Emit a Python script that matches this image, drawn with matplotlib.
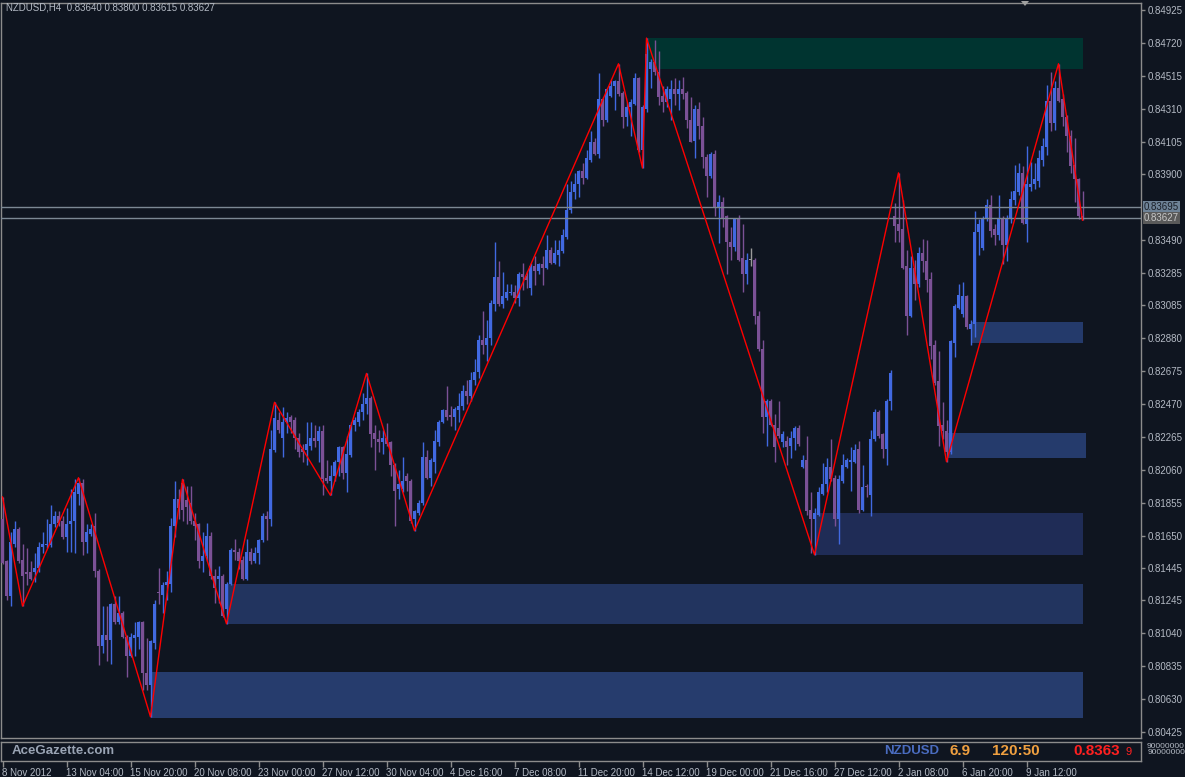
import matplotlib
matplotlib.use("Agg")
import matplotlib.pyplot as plt
from matplotlib.patches import Rectangle, Polygon

# NZDUSD H4 candles, bar 0 = first bar on screen (8 Nov 2012)
opens = [
    0.8175, 0.8149, 0.8127, 0.8160, 0.8169, 0.8150, 0.8142, 0.8142, 0.8142, 0.8145,
    0.8158, 0.8159, 0.8159, 0.8172, 0.8177, 0.8174, 0.8164, 0.8172, 0.8174, 0.8191,
    0.8198, 0.8161, 0.8166, 0.8171, 0.8143, 0.8096, 0.8103, 0.8100, 0.8122, 0.8111,
    0.8117, 0.8102, 0.8090, 0.8101, 0.8102, 0.8111, 0.8079, 0.8072, 0.8098, 0.8130,
    0.8128, 0.8134, 0.8135, 0.8171, 0.8188, 0.8198, 0.8187, 0.8185, 0.8174, 0.8172,
    0.8149, 0.8152, 0.8165, 0.8140, 0.8138, 0.8140, 0.8119, 0.8135, 0.8156, 0.8155,
    0.8150, 0.8138, 0.8155, 0.8149, 0.8154, 0.8162, 0.8177, 0.8175, 0.8218, 0.8237,
    0.8226, 0.8236, 0.8239, 0.8237, 0.8226, 0.8219, 0.8218, 0.8221, 0.8226, 0.8224,
    0.8230, 0.8201, 0.8199, 0.8202, 0.8211, 0.8220, 0.8204, 0.8215, 0.8234, 0.8236,
    0.8242, 0.8247, 0.8251, 0.8229, 0.8225, 0.8223, 0.8226, 0.8223, 0.8209, 0.8194,
    0.8194, 0.8202, 0.8199, 0.8175, 0.8179, 0.8185, 0.8214, 0.8201, 0.8211, 0.8223,
    0.8236, 0.8243, 0.8240, 0.8239, 0.8243, 0.8246, 0.8255, 0.8252, 0.8262, 0.8267,
    0.8287, 0.8284, 0.8288, 0.8309, 0.8326, 0.8309, 0.8313, 0.8316, 0.8317, 0.8313,
    0.8328, 0.8327, 0.8319, 0.8333, 0.8330, 0.8334, 0.8332, 0.8343, 0.8335, 0.8340,
    0.8342, 0.8351, 0.8368, 0.8379, 0.8384, 0.8392, 0.8388, 0.8399, 0.8410, 0.8403,
    0.8437, 0.8424, 0.8439, 0.8445, 0.8448, 0.8441, 0.8426, 0.8432, 0.8434, 0.8450,
    0.8405, 0.8431, 0.8456, 0.8460, 0.8454, 0.8439, 0.8435, 0.8437, 0.8443, 0.8440,
    0.8443, 0.8441, 0.8424, 0.8411, 0.8431, 0.8420, 0.8401, 0.8389, 0.8403, 0.8369,
    0.8373, 0.8364, 0.8348, 0.8345, 0.8362, 0.8338, 0.8328, 0.8337, 0.8337, 0.8302,
    0.8281, 0.8239, 0.8249, 0.8234, 0.8232, 0.8223, 0.8224, 0.8221, 0.8226, 0.8232,
    0.8208, 0.8212, 0.8181, 0.8175, 0.8178, 0.8191, 0.8197, 0.8208, 0.8201, 0.8175,
    0.8199, 0.8208, 0.8211, 0.8211, 0.8219, 0.8181, 0.8196, 0.8190, 0.8225, 0.8242,
    0.8228, 0.8219, 0.8249, 0.8364, 0.8359, 0.8356, 0.8333, 0.8302, 0.8332, 0.8322,
    0.8341, 0.8336, 0.8325, 0.8284, 0.8261, 0.8234, 0.8230, 0.8217, 0.8285, 0.8307,
    0.8303, 0.8314, 0.8294, 0.8297, 0.8354, 0.8344, 0.8362, 0.8371, 0.8356, 0.8352,
    0.8363, 0.8346, 0.8363, 0.8374, 0.8379, 0.8391, 0.8359, 0.8382, 0.8384, 0.8386,
    0.8399, 0.8407, 0.8436, 0.8422, 0.8444, 0.8437, 0.8426, 0.8414, 0.8396, 0.8387,
    0.83640,
]
highs = [
    0.8189, 0.8150, 0.8167, 0.8174, 0.8170, 0.8160, 0.8157, 0.8149, 0.8154, 0.8161,
    0.8167, 0.8175, 0.8184, 0.8180, 0.8180, 0.8177, 0.8182, 0.8194, 0.8200, 0.8201,
    0.8200, 0.8172, 0.8172, 0.8179, 0.8144, 0.8121, 0.8121, 0.8123, 0.8127, 0.8127,
    0.8118, 0.8103, 0.8104, 0.8111, 0.8112, 0.8112, 0.8101, 0.8100, 0.8125, 0.8145,
    0.8136, 0.8143, 0.8176, 0.8199, 0.8194, 0.8200, 0.8196, 0.8196, 0.8179, 0.8173,
    0.8167, 0.8173, 0.8167, 0.8144, 0.8146, 0.8141, 0.8136, 0.8157, 0.8163, 0.8157,
    0.8152, 0.8163, 0.8157, 0.8158, 0.8163, 0.8179, 0.8180, 0.8231, 0.8248, 0.8242,
    0.8245, 0.8242, 0.8240, 0.8239, 0.8229, 0.8222, 0.8236, 0.8236, 0.8234, 0.8233,
    0.8234, 0.8212, 0.8209, 0.8212, 0.8221, 0.8221, 0.8227, 0.8236, 0.8239, 0.8244,
    0.8254, 0.8266, 0.8252, 0.8234, 0.8231, 0.8231, 0.8235, 0.8224, 0.8210, 0.8206,
    0.8214, 0.8204, 0.8200, 0.8181, 0.8187, 0.8223, 0.8218, 0.8213, 0.8231, 0.8237,
    0.8244, 0.8258, 0.8246, 0.8245, 0.8254, 0.8259, 0.8262, 0.8267, 0.8275, 0.8290,
    0.8305, 0.8299, 0.8312, 0.8348, 0.8336, 0.8329, 0.8322, 0.8322, 0.8321, 0.8329,
    0.8335, 0.8330, 0.8335, 0.8339, 0.8335, 0.8339, 0.8352, 0.8345, 0.8349, 0.8349,
    0.8356, 0.8384, 0.8386, 0.8391, 0.8393, 0.8397, 0.8405, 0.8417, 0.8413, 0.8453,
    0.8438, 0.8444, 0.8449, 0.8449, 0.8459, 0.8442, 0.8435, 0.8437, 0.8453, 0.8451,
    0.8433, 0.8475, 0.8462, 0.8474, 0.8467, 0.8445, 0.8445, 0.8449, 0.8450, 0.8449,
    0.8451, 0.8442, 0.8438, 0.8433, 0.8435, 0.8426, 0.8403, 0.8404, 0.8405, 0.8377,
    0.8376, 0.8365, 0.8357, 0.8363, 0.8365, 0.8359, 0.8341, 0.8344, 0.8338, 0.8305,
    0.8287, 0.8250, 0.8250, 0.8241, 0.8249, 0.8230, 0.8227, 0.8230, 0.8233, 0.8234,
    0.8215, 0.8227, 0.8192, 0.8182, 0.8195, 0.8210, 0.8213, 0.8225, 0.8203, 0.8203,
    0.8216, 0.8213, 0.8220, 0.8222, 0.8224, 0.8209, 0.8197, 0.8231, 0.8244, 0.8243,
    0.8229, 0.8250, 0.8268, 0.8372, 0.8391, 0.8374, 0.8343, 0.8339, 0.8337, 0.8345,
    0.8350, 0.8349, 0.8329, 0.8287, 0.8280, 0.8248, 0.8237, 0.8287, 0.8309, 0.8322,
    0.8323, 0.8315, 0.8299, 0.8367, 0.8362, 0.8364, 0.8375, 0.8377, 0.8359, 0.8377,
    0.8364, 0.8365, 0.8380, 0.8396, 0.8397, 0.8395, 0.8408, 0.8398, 0.8397, 0.8405,
    0.8413, 0.8446, 0.8454, 0.8448, 0.8459, 0.8440, 0.8427, 0.8418, 0.8413, 0.8388,
    0.83800,
]
lows = [
    0.8147, 0.8125, 0.8121, 0.8158, 0.8148, 0.8121, 0.8134, 0.8137, 0.8136, 0.8142,
    0.8154, 0.8157, 0.8158, 0.8170, 0.8171, 0.8163, 0.8155, 0.8155, 0.8154, 0.8184,
    0.8153, 0.8154, 0.8165, 0.8139, 0.8084, 0.8092, 0.8087, 0.8085, 0.8110, 0.8110,
    0.8101, 0.8077, 0.8089, 0.8090, 0.8094, 0.8069, 0.8069, 0.8052, 0.8094, 0.8122,
    0.8117, 0.8125, 0.8130, 0.8164, 0.8175, 0.8174, 0.8172, 0.8172, 0.8162, 0.8145,
    0.8142, 0.8149, 0.8138, 0.8123, 0.8123, 0.8114, 0.8110, 0.8134, 0.8150, 0.8144,
    0.8137, 0.8137, 0.8147, 0.8148, 0.8147, 0.8161, 0.8162, 0.8171, 0.8217, 0.8229,
    0.8214, 0.8229, 0.8229, 0.8219, 0.8214, 0.8211, 0.8209, 0.8218, 0.8220, 0.8211,
    0.8190, 0.8198, 0.8190, 0.8199, 0.8202, 0.8200, 0.8192, 0.8214, 0.8230, 0.8233,
    0.8237, 0.8241, 0.8220, 0.8206, 0.8217, 0.8216, 0.8221, 0.8202, 0.8171, 0.8188,
    0.8192, 0.8193, 0.8173, 0.8168, 0.8178, 0.8184, 0.8200, 0.8196, 0.8204, 0.8221,
    0.8235, 0.8237, 0.8233, 0.8231, 0.8236, 0.8243, 0.8247, 0.8249, 0.8259, 0.8263,
    0.8278, 0.8274, 0.8284, 0.8305, 0.8308, 0.8307, 0.8312, 0.8315, 0.8310, 0.8308,
    0.8318, 0.8319, 0.8315, 0.8321, 0.8328, 0.8321, 0.8331, 0.8334, 0.8334, 0.8333,
    0.8341, 0.8350, 0.8366, 0.8375, 0.8376, 0.8384, 0.8387, 0.8398, 0.8402, 0.8400,
    0.8420, 0.8423, 0.8438, 0.8430, 0.8439, 0.8419, 0.8420, 0.8414, 0.8433, 0.8404,
    0.8394, 0.8429, 0.8444, 0.8452, 0.8433, 0.8429, 0.8432, 0.8424, 0.8433, 0.8430,
    0.8437, 0.8419, 0.8410, 0.8400, 0.8412, 0.8394, 0.8376, 0.8388, 0.8364, 0.8347,
    0.8357, 0.8328, 0.8337, 0.8342, 0.8336, 0.8317, 0.8322, 0.8333, 0.8297, 0.8280,
    0.8229, 0.8221, 0.8233, 0.8211, 0.8226, 0.8220, 0.8209, 0.8213, 0.8218, 0.8221,
    0.8207, 0.8178, 0.8154, 0.8153, 0.8177, 0.8190, 0.8192, 0.8199, 0.8171, 0.8160,
    0.8198, 0.8207, 0.8193, 0.8210, 0.8179, 0.8180, 0.8189, 0.8177, 0.8224, 0.8226,
    0.8213, 0.8209, 0.8243, 0.8348, 0.8348, 0.8331, 0.8290, 0.8301, 0.8312, 0.8320,
    0.8329, 0.8317, 0.8275, 0.8259, 0.8221, 0.8225, 0.8211, 0.8216, 0.8276, 0.8306,
    0.8301, 0.8294, 0.8284, 0.8289, 0.8340, 0.8343, 0.8361, 0.8351, 0.8346, 0.8349,
    0.8334, 0.8336, 0.8360, 0.8371, 0.8377, 0.8359, 0.8348, 0.8380, 0.8381, 0.8382,
    0.8395, 0.8402, 0.8417, 0.8418, 0.8435, 0.8420, 0.8404, 0.8391, 0.8373, 0.8362,
    0.83615,
]
closes = [
    0.8148, 0.8127, 0.8161, 0.8169, 0.8149, 0.8140, 0.8141, 0.8138, 0.8145, 0.8158,
    0.8160, 0.8160, 0.8172, 0.8177, 0.8173, 0.8164, 0.8172, 0.8174, 0.8192, 0.8198,
    0.8161, 0.8167, 0.8169, 0.8143, 0.8096, 0.8103, 0.8100, 0.8122, 0.8111, 0.8117,
    0.8102, 0.8090, 0.8102, 0.8103, 0.8111, 0.8079, 0.8072, 0.8099, 0.8122, 0.8129,
    0.8134, 0.8136, 0.8171, 0.8188, 0.8182, 0.8181, 0.8183, 0.8174, 0.8171, 0.8149,
    0.8152, 0.8165, 0.8140, 0.8132, 0.8140, 0.8115, 0.8135, 0.8156, 0.8155, 0.8149,
    0.8138, 0.8155, 0.8149, 0.8154, 0.8162, 0.8177, 0.8175, 0.8219, 0.8238, 0.8231,
    0.8236, 0.8238, 0.8236, 0.8226, 0.8217, 0.8217, 0.8222, 0.8226, 0.8224, 0.8230,
    0.8200, 0.8199, 0.8202, 0.8211, 0.8220, 0.8204, 0.8216, 0.8234, 0.8237, 0.8242,
    0.8247, 0.8251, 0.8228, 0.8225, 0.8223, 0.8226, 0.8222, 0.8209, 0.8193, 0.8197,
    0.8199, 0.8199, 0.8174, 0.8180, 0.8185, 0.8214, 0.8201, 0.8212, 0.8224, 0.8236,
    0.8243, 0.8239, 0.8239, 0.8244, 0.8246, 0.8255, 0.8252, 0.8262, 0.8267, 0.8287,
    0.8284, 0.8288, 0.8310, 0.8326, 0.8309, 0.8314, 0.8317, 0.8317, 0.8313, 0.8328,
    0.8326, 0.8324, 0.8333, 0.8330, 0.8334, 0.8332, 0.8343, 0.8335, 0.8341, 0.8343,
    0.8352, 0.8368, 0.8379, 0.8384, 0.8392, 0.8388, 0.8400, 0.8410, 0.8403, 0.8437,
    0.8424, 0.8443, 0.8445, 0.8448, 0.8440, 0.8426, 0.8432, 0.8435, 0.8450, 0.8405,
    0.8432, 0.8465, 0.8460, 0.8454, 0.8438, 0.8435, 0.8443, 0.8443, 0.8440, 0.8443,
    0.8440, 0.8424, 0.8410, 0.8431, 0.8420, 0.8401, 0.8389, 0.8403, 0.8369, 0.8373,
    0.8363, 0.8348, 0.8345, 0.8362, 0.8337, 0.8328, 0.8337, 0.8337, 0.8302, 0.8281,
    0.8239, 0.8249, 0.8234, 0.8220, 0.8227, 0.8228, 0.8220, 0.8226, 0.8232, 0.8222,
    0.8212, 0.8180, 0.8175, 0.8179, 0.8192, 0.8197, 0.8208, 0.8200, 0.8175, 0.8200,
    0.8209, 0.8212, 0.8212, 0.8218, 0.8181, 0.8195, 0.8195, 0.8225, 0.8242, 0.8227,
    0.8219, 0.8249, 0.8266, 0.8358, 0.8355, 0.8332, 0.8302, 0.8332, 0.8322, 0.8341,
    0.8336, 0.8324, 0.8283, 0.8260, 0.8233, 0.8230, 0.8217, 0.8286, 0.8308, 0.8315,
    0.8314, 0.8295, 0.8297, 0.8354, 0.8359, 0.8363, 0.8371, 0.8355, 0.8352, 0.8363,
    0.8346, 0.8363, 0.8375, 0.8380, 0.8391, 0.8360, 0.8384, 0.8384, 0.8387, 0.8400,
    0.8408, 0.8436, 0.8422, 0.8444, 0.8436, 0.8426, 0.8414, 0.8395, 0.8387, 0.8364,
    0.83627,
]

# zigzag swing points (bar index, price)
zz_bar = [0, 5, 19, 37, 45, 56, 68, 82, 91, 103, 154, 160, 161, 203, 224, 236, 264, 270]
zz_price = [0.8189, 0.8121, 0.8201, 0.8052, 0.8200, 0.8110, 0.8248, 0.8190, 0.8266,
            0.8168, 0.8459, 0.8394, 0.8475, 0.8153, 0.8391, 0.8211, 0.8459, 0.83615]

# supply / demand zones
zone_start = [161, 242, 236, 203, 56, 37]
zone_end = [270, 270, 270.8, 270, 270, 270]
zone_low = [0.84557, 0.8285, 0.8213, 0.8153, 0.8110, 0.8051]
zone_high = [0.8475, 0.8298, 0.8229, 0.8179, 0.8135, 0.8080]
zone_color = ["#003430", "#243a6b", "#253b6c", "#1f2c56", "#22345f", "#263c6d"]

ask_price = 0.83695
bid_price = 0.83627

price_ticks = [0.84925, 0.84720, 0.84515, 0.84310, 0.84105, 0.83900, 0.83490,
               0.83285, 0.83085, 0.82880, 0.82675, 0.82470, 0.82265, 0.82060,
               0.81855, 0.81650, 0.81445, 0.81245, 0.81040, 0.80835, 0.80630, 0.80425]
time_bars = [0, 16, 32, 48, 64, 80, 96, 112, 128, 144, 160, 176, 192, 208, 224, 240, 256]
time_labels = ["8 Nov 2012", "13 Nov 04:00", "15 Nov 20:00", "20 Nov 08:00",
               "23 Nov 00:00", "27 Nov 12:00", "30 Nov 04:00", "4 Dec 16:00",
               "7 Dec 08:00", "11 Dec 20:00", "14 Dec 12:00", "19 Dec 00:00",
               "21 Dec 16:00", "27 Dec 12:00", "2 Jan 08:00", "6 Jan 20:00", "9 Jan 12:00"]

BG = "#0f1520"
BULL = "#4169e1"
BEAR = "#7b5196"
DOJI = "#9a9a9a"
GRID = "#7c8894"
TXT = "#b4bac4"

plt.rcParams["font.family"] = ["Liberation Sans", "DejaVu Sans"]

W, H = 1185, 777
fig = plt.figure(figsize=(W / 100, H / 100), dpi=100, facecolor=BG)


def fx(px):
    return px / W


def fy(py):
    return 1 - py / H


XLIM = (-0.375, 284.625)   # bar i sits at pixel 2.5 + 4*i

ax = fig.add_axes([fx(1), fy(738), fx(1140), 735 / H], facecolor=BG)
ax.set_xlim(*XLIM)
ax.set_ylim(0.80388, 0.849686)

for s, e, lo, hi, c in zip(zone_start, zone_end, zone_low, zone_high, zone_color):
    ax.add_patch(Rectangle((s, lo), e - s, hi - lo, facecolor=c, edgecolor="none", zorder=1))

bars = list(range(len(closes)))
cols = []
for o, c in zip(opens, closes):
    if c > o:
        cols.append(BULL)
    elif c < o:
        cols.append(BEAR)
    else:
        cols.append(DOJI)
ax.vlines(bars, lows, highs, colors=cols, lw=1, zorder=3)
body_h = [max(abs(c - o), 0.00003) for o, c in zip(opens, closes)]
body_b = [min(o, c) for o, c in zip(opens, closes)]
ax.bar(bars, body_h, bottom=body_b, width=0.75, color=cols, linewidth=0, zorder=4)

ax.plot(zz_bar, zz_price, color="#ff0000", lw=1.0, zorder=6)

ax.axhline(ask_price, color=GRID, lw=1, zorder=5)
ax.axhline(bid_price, color=GRID, lw=1, zorder=5)

ax.yaxis.tick_right()
ax.set_yticks(price_ticks)
ax.set_yticklabels(["%.5f" % p for p in price_ticks])
ax.tick_params(axis="y", direction="out", length=3, width=1, color="#8c8c8c",
               labelcolor=TXT, labelsize=7, pad=2)
ax.set_xticks([])
for sp in ax.spines.values():
    sp.set_color("#8c8c8c")
    sp.set_linewidth(1)

ax.text(1.0025, ask_price, "%.5f" % ask_price, transform=ax.get_yaxis_transform(),
        ha="left", va="center", fontsize=7, color="#1a1f28",
        bbox=dict(boxstyle="square,pad=0.12", fc="#6e8296", ec="none"))
ax.text(1.0025, bid_price, "%.5f" % bid_price, transform=ax.get_yaxis_transform(),
        ha="left", va="center", fontsize=7, color="#c8c8c8",
        bbox=dict(boxstyle="square,pad=0.12", fc="#5a5a5a", ec="none"))

fig.text(fx(6), fy(8), "NZDUSD,H4  0.83640 0.83800 0.83615 0.83627",
         fontsize=7, color=TXT, va="center", ha="left")
fig.add_artist(Polygon([[fx(1021), fy(1)], [fx(1029), fy(1)], [fx(1025), fy(6)]],
                       closed=True, facecolor="#a0a0a0", edgecolor="none",
                       transform=fig.transFigure))

# indicator sub window with the time axis below it
ax2 = fig.add_axes([fx(1), fy(761), fx(1140), 19 / H], facecolor=BG)
ax2.set_xlim(*XLIM)
ax2.set_ylim(0, 1)
ax2.set_yticks([])
ax2.set_xticks(time_bars)
ax2.set_xticklabels(time_labels)
ax2.tick_params(axis="x", direction="out", length=4, width=1, color="#8c8c8c",
                labelcolor=TXT, labelsize=7, pad=1)
for lab in ax2.get_xticklabels():
    lab.set_ha("left")
for sp in ax2.spines.values():
    sp.set_color("#8c8c8c")
    sp.set_linewidth(1)

fig.text(fx(12), fy(751), "AceGazette.com", fontsize=9.5, fontweight="bold",
         color="#9aa4b4", va="center", ha="left")
fig.text(fx(884), fy(751), "NZDUSD", fontsize=9.5, fontweight="bold",
         color="#4a6cc0", va="center", ha="left")
fig.text(fx(950), fy(751), "6.9", fontsize=11, fontweight="bold",
         color="#f0a040", va="center", ha="left")
fig.text(fx(992), fy(751), "120:50", fontsize=11, fontweight="bold",
         color="#f0a040", va="center", ha="left")
fig.text(fx(1073), fy(751), "0.8363", fontsize=11, fontweight="bold",
         color="#ff2020", va="center", ha="left")
fig.text(fx(1126), fy(752), "9", fontsize=8, color="#ff2020", va="center", ha="left")
fig.text(fx(1147), fy(747), "90000000", fontsize=6, color=TXT, va="center", ha="left")
fig.text(fx(1148), fy(752), "90000000", fontsize=6, color=TXT, va="center", ha="left")

fig.savefig("out.png", dpi=100, facecolor=BG)
